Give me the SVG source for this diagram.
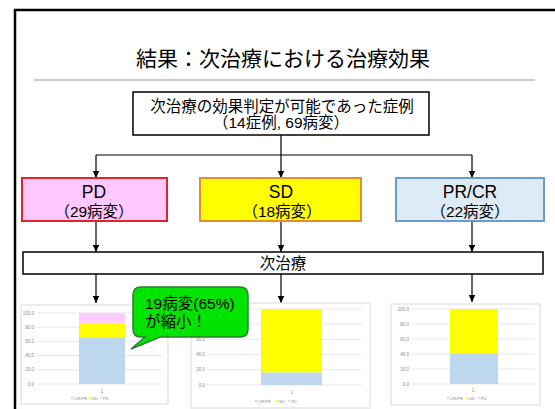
<svg xmlns="http://www.w3.org/2000/svg" width="555" height="409" viewBox="0 0 555 409">
<defs>
<marker id="arr" markerUnits="userSpaceOnUse" markerWidth="8" markerHeight="8" refX="7.5" refY="3.5" orient="auto">
<path d="M0,0 L7.5,3.5 L0,7 Z" fill="#000"/>
</marker>
<style>
.t{font-family:'Liberation Sans','Noto Sans CJK JP',sans-serif;fill:#000;text-anchor:middle}
.box{fill:#fff;stroke:#000;stroke-width:1.5}
.con{stroke:#000;stroke-width:1.2;fill:none}
.cf{fill:#fff;stroke:#D9D9D9;stroke-width:1}
.grid{stroke:#D9D9D9;stroke-width:0.6}
.ax{font-family:'Liberation Sans',sans-serif;font-size:4.5px;fill:#8C8C8C;text-anchor:end}
.lg{font-family:'Liberation Sans',sans-serif;font-size:4.2px;fill:#8C8C8C}
.cat{font-family:'Liberation Sans',sans-serif;font-size:4.5px;fill:#8C8C8C;text-anchor:middle}
.cr{fill:#BDD7EE}.sd{fill:#FFFF00}.pdc{fill:#FFCCFF}
</style>
</defs>
<rect width="555" height="409" fill="#fff"/>
<g id="frame"><rect x="15" y="10" width="600" height="500" fill="none" stroke="#000" stroke-width="2.5"/></g>
<g id="title">
<text class="t" x="283" y="66" font-size="21">結果：次治療における治療効果</text>
<line x1="34" y1="80" x2="535" y2="80" stroke="#BBBBBB" stroke-width="1.5"/>
</g>
<g id="top-box">
<rect class="box" x="133" y="92" width="296" height="43"/>
<text class="t" x="282" y="112" font-size="15.5">次治療の効果判定が可能であった症例</text>
<text class="t" x="281" y="128" font-size="15.5">（14症例, 69病変）</text>
</g>
<g id="connectors">
<path class="con" d="M281,135 V155 M96,155 H472"/>
<line class="con" x1="96" y1="155" x2="96" y2="178" marker-end="url(#arr)"/>
<line class="con" x1="281" y1="155" x2="281" y2="178" marker-end="url(#arr)"/>
<line class="con" x1="472" y1="155" x2="472" y2="178" marker-end="url(#arr)"/>
<line class="con" x1="96" y1="221" x2="96" y2="252" marker-end="url(#arr)"/>
<line class="con" x1="281" y1="221" x2="281" y2="252" marker-end="url(#arr)"/>
<line class="con" x1="472" y1="221" x2="472" y2="252" marker-end="url(#arr)"/>
<line class="con" x1="96" y1="274" x2="96" y2="303" marker-end="url(#arr)"/>
<line class="con" x1="281" y1="274" x2="281" y2="303" marker-end="url(#arr)"/>
<line class="con" x1="472" y1="274" x2="472" y2="302" marker-end="url(#arr)"/>
</g>
<g id="pd">
<rect x="22" y="178" width="145" height="43" fill="#FFC8FF" stroke="#E3222C" stroke-width="2"/>
<text class="t" x="94" y="198" font-size="17.5">PD</text>
<text class="t" x="94" y="217" font-size="15.5">（29病変）</text>
</g>
<g id="sd">
<rect x="200" y="178" width="161" height="43" fill="#FFFF00" stroke="#E58F2A" stroke-width="2"/>
<text class="t" x="281" y="198" font-size="17.5">SD</text>
<text class="t" x="282" y="217" font-size="15.5">（18病変）</text>
</g>
<g id="prcr">
<rect x="396" y="178" width="148" height="43" fill="#DDEBF7" stroke="#6A9BCB" stroke-width="2"/>
<text class="t" x="470" y="198" font-size="17.5">PR/CR</text>
<text class="t" x="470" y="217" font-size="15.5">（22病変）</text>
</g>
<g id="next-treatment">
<rect class="box" x="23" y="252" width="520" height="22"/>
<text class="t" x="283" y="268.5" font-size="15.5">次治療</text>
</g>
<g id="chart-pd">
<rect class="cf" x="21" y="305" width="147" height="99"/>
<path class="grid" d="M37,313 H162 M37,327.2 H162 M37,341.4 H162 M37,355.6 H162 M37,369.8 H162 M37,384 H162"/>
<text class="ax" x="34" y="314.5">100.0</text><text class="ax" x="34" y="328.7">80.0</text><text class="ax" x="34" y="342.9">60.0</text><text class="ax" x="34" y="357.1">40.0</text><text class="ax" x="34" y="371.3">20.0</text><text class="ax" x="34" y="385.5">0.0</text>
<rect class="cr" x="79" y="337.5" width="46" height="46.5"/>
<rect class="sd" x="79" y="322.8" width="46" height="14.7"/>
<rect class="pdc" x="79" y="313" width="46" height="9.8"/>
<text class="cat" x="102" y="393">1</text>
<rect class="cr" x="71" y="397" width="2" height="2"/><text class="lg" x="74" y="399.5">CR/PR</text>
<rect class="sd" x="89" y="397" width="2" height="2"/><text class="lg" x="92" y="399.5">SD</text>
<rect class="pdc" x="100" y="397" width="2" height="2"/><text class="lg" x="103" y="399.5">PD</text>
</g>
<g id="chart-sd">
<rect class="cf" x="191" y="303" width="179" height="105"/>
<path class="grid" d="M207,309 H362 M207,324.2 H362 M207,339.4 H362 M207,354.6 H362 M207,369.8 H362 M207,385 H362"/>
<text class="ax" x="205" y="340.9">60.0</text><text class="ax" x="205" y="356.1">40.0</text><text class="ax" x="205" y="371.3">20.0</text><text class="ax" x="205" y="386.5">0.0</text>
<rect class="cr" x="261" y="372.3" width="61" height="12.7"/>
<rect class="sd" x="261" y="309" width="61" height="63.3"/>
<text class="cat" x="292" y="394">1</text>
<rect class="cr" x="255" y="400" width="2" height="2"/><text class="lg" x="258" y="402.5">CR/PR</text>
<rect class="sd" x="276" y="400" width="2" height="2"/><text class="lg" x="279" y="402.5">SD</text>
<rect class="pdc" x="288" y="400" width="2" height="2"/><text class="lg" x="291" y="402.5">PD</text>
</g>
<g id="chart-prcr">
<rect class="cf" x="391" y="304" width="149" height="101"/>
<path class="grid" d="M412,309 H535 M412,324 H535 M412,339 H535 M412,354 H535 M412,369 H535 M412,384 H535"/>
<text class="ax" x="409" y="310.5">100.0</text><text class="ax" x="409" y="325.5">80.0</text><text class="ax" x="409" y="340.5">60.0</text><text class="ax" x="409" y="355.5">40.0</text><text class="ax" x="409" y="370.5">20.0</text><text class="ax" x="409" y="385.5">0.0</text>
<rect class="cr" x="450" y="353.3" width="48" height="30.7"/>
<rect class="sd" x="450" y="309" width="48" height="44.3"/>
<text class="cat" x="473" y="392">1</text>
<rect class="cr" x="447" y="397" width="2" height="2"/><text class="lg" x="450" y="399.5">CR/PR</text>
<rect class="sd" x="466" y="397" width="2" height="2"/><text class="lg" x="469" y="399.5">SD</text>
<rect class="pdc" x="478" y="397" width="2" height="2"/><text class="lg" x="481" y="399.5">PD</text>
</g>
<g id="callout">
<path d="M141,287 H240 Q248,287 248,295 V329 Q248,337 240,337 H160 L131,349 L145,337 H141 Q133,337 133,329 V295 Q133,287 141,287 Z" fill="#00E400" stroke="#2E7D32" stroke-width="1.5"/>
<text class="t" x="145" y="309" font-size="15.5" style="text-anchor:start">19病変(65%)</text>
<text class="t" x="145" y="327" font-size="15.5" style="text-anchor:start">が縮小！</text>
</g>
</svg>
